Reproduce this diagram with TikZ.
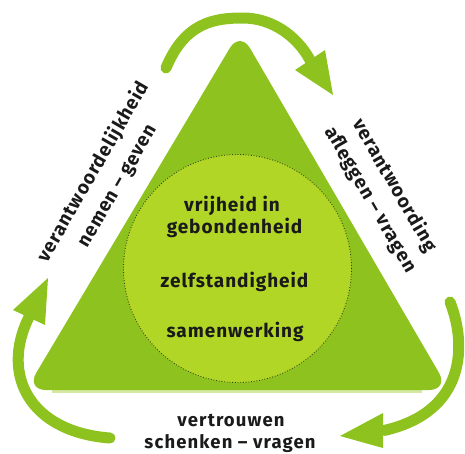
\documentclass[tikz,border=0pt]{standalone}
\usepackage{fontspec}
\newfontfamily\lblfont[LetterSpace=5.0]{Fira Sans}
\newfontfamily\botfont[LetterSpace=6.0]{Fira Sans}
\definecolor{trigreen}{HTML}{8EC31F}
\definecolor{circgreen}{HTML}{B1D626}
\definecolor{palegreen}{HTML}{D4E8A2}
\definecolor{dotcol}{HTML}{3A4A12}
\definecolor{txt}{HTML}{1A1A1A}
\begin{document}
\begin{tikzpicture}[x=1pt,y=-1pt,
  lbl/.style={font=\lblfont\bfseries\fontsize{19}{24}\selectfont, text=txt, inner sep=0pt, align=center},
  sidelbl/.style={font=\lblfont\bfseries\fontsize{19}{28}\selectfont, text=txt, inner sep=0pt, align=center},
  botlbl/.style={font=\botfont\bfseries\fontsize{18.5}{24}\selectfont, text=txt, inner sep=0pt, align=center},
  arrowline/.style={draw=trigreen, line width=11pt, line cap=round},
  arrowhead/.style={fill=trigreen}]
\useasboundingbox (0,0) rectangle (465,453);
% pale edge under the triangle
\draw[palegreen, line width=2.5pt] (52,391.5) -- (422,391.5);
% triangle
\fill[trigreen, rounded corners=20pt] (240,31) -- (449,390) -- (26,390) -- cycle;
% circle
\node[circle, minimum size=228pt, inner sep=0pt, fill=circgreen, draw=dotcol, line width=0.9pt, dash pattern=on 0.9pt off 1.8pt] (core) at (237.5,268.5) {};
% center texts
\node[lbl, anchor=base] (t1) at (232,211) {vrijheid in};
\node[lbl, anchor=base] (t2) at (234.5,233) {gebondenheid};
\node[lbl, anchor=base] (t3) at (234.5,287) {zelfstandigheid};
\node[lbl, anchor=base] (t4) at (235,337) {samenwerking};
% side texts
\node[sidelbl, rotate=60] (left) at (105.5,179) {verantwoordelijkheid\\nemen – geven};
\node[sidelbl, rotate=-60] (right) at (382.5,192.5) {verantwoording\\afleggen – vragen};
\node[botlbl, anchor=base] (b1) at (231,426) {vertrouwen};
\node[botlbl, anchor=base] (b2) at (230,448) {schenken – vragen};
% arrows
\coordinate (atail) at (166,68);
\coordinate (abase) at (310,60);
\draw[arrowline] (atail) .. controls (185,22) and (215,18) .. (243,18) .. controls (272,18) and (297,36) .. (abase);
\fill[arrowhead] (333,95) -- (295,70) -- (325,50) -- cycle;
\coordinate (btail) at (450,302);
\coordinate (bbase) at (384,430.5);
\draw[arrowline] (btail) .. controls (467,345) and (466,412) .. (bbase);
\fill[arrowhead] (340,436) -- (383,413) -- (383,448) -- cycle;
\coordinate (ctail) at (110,438);
\coordinate (cbase) at (29,317);
\draw[arrowline] (ctail) .. controls (30,432) and (0,375) .. (cbase);
\fill[arrowhead] (48,278) -- (13,310) -- (45,325) -- cycle;
\end{tikzpicture}
\end{document}
